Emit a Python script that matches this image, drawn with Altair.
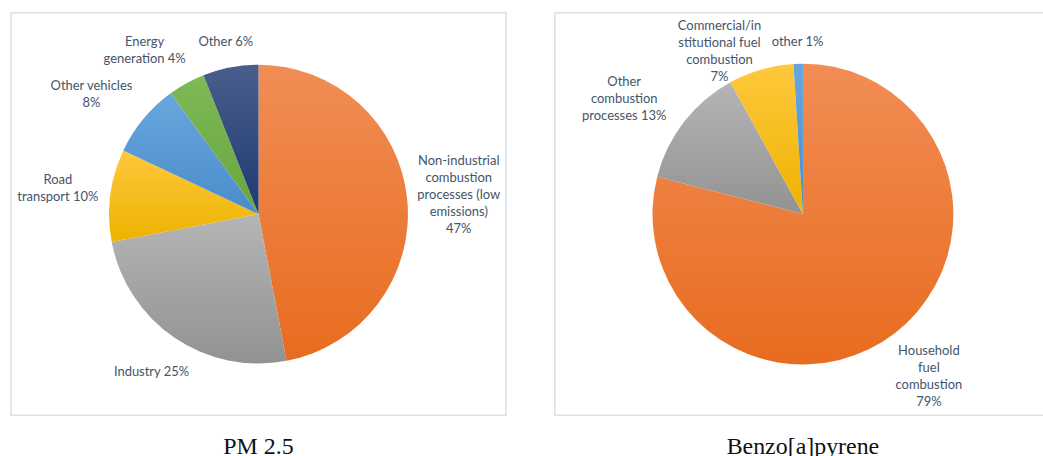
import math
import altair as alt
import pandas as pd

# ---------------- data ----------------
pm_categories = ["Non-industrial combustion processes (low emissions)", "Industry",
                 "Road transport", "Other vehicles", "Energy generation", "Other"]
pm_values = [47, 25, 10, 8, 4, 6]
pm_labels = [["Non-industrial", "combustion", "processes (low", "emissions)", "47%"],
             ["Industry 25%"],
             ["Road", "transport 10%"],
             ["Other vehicles", "8%"],
             ["Energy", "generation 4%"],
             ["Other 6%"]]

bap_categories = ["Household fuel combustion", "Other combustion processes",
                  "Commercial/institutional fuel combustion", "other"]
bap_values = [79, 13, 7, 1]
bap_labels = [["Household", "fuel", "combustion", "79%"],
              ["Other", "combustion", "processes 13%"],
              ["Commercial/in", "stitutional fuel", "combustion", "7%"],
              ["other 1%"]]

# gradient colours (top, bottom) per Office palette colour
ORANGE = ("#F18D55", "#E86C1F")
GRAY = ("#B5B5B5", "#929292")
GOLD = ("#FFC83D", "#EDB300")
BLUE = ("#68A7DE", "#4A8CCB")
GREEN = ("#7EB957", "#67A63C")
NAVY = ("#4A5E8C", "#1E3A70")

pm_colors = [ORANGE, GRAY, GOLD, BLUE, GREEN, NAVY]
bap_colors = [ORANGE, GRAY, GOLD, BLUE]

LABEL_FONT = "Lato"
LABEL_SIZE = 13
LINE_H = 17
LABEL_COLOR = "#44546A"
FRAME_COLOR = "#DCDFE4"

# approximate Lato advance widths (per 1000 em) used to size label boxes
_ADV = {"i": 230, "l": 230, "j": 230, "t": 340, "f": 300, "r": 340, " ": 193, "s": 400,
        "o": 560, "n": 550, "e": 510, "a": 480, "u": 550, "c": 450, "d": 560, "p": 560,
        "y": 500, "h": 550, "m": 830, "g": 520, "v": 500, "b": 560, "%": 780, "/": 360,
        "(": 300, ")": 300, "-": 340, "C": 660, "I": 280, "O": 760, "N": 750, "H": 750,
        "R": 620, "E": 560}


def text_w(t):
    """rough rendered width of a label line (px)"""
    return sum(_ADV.get(ch, 580) for ch in t) * LABEL_SIZE / 1000 * 1.07


def place(lines, ang_deg, R, W, H, gap=12, margin=5):
    """Excel-like outside-end placement: label box just clear of the pie, kept inside the view."""
    a = math.radians(ang_deg)
    s, c = math.sin(a), math.cos(a)
    hw = max(text_w(t) for t in lines) / 2
    hh = len(lines) * LINE_H / 2
    r = R + gap + abs(s) * hw + abs(c) * hh
    if abs(s) > 1e-6:
        r = min(r, (W / 2 - margin - hw) / abs(s))
    if abs(c) > 1e-6:
        r = min(r, (H / 2 - margin - hh) / abs(c))
    cx, cy = r * s, -r * c
    return r, (cx - hw, cy - hh, cx + hw, cy + hh)


def overlaps(b1, b2, pad=8):
    return not (b1[2] + pad <= b2[0] or b2[2] + pad <= b1[0] or
                b1[3] + pad <= b2[1] or b2[3] + pad <= b1[1])


def pie(categories, values, labels, colors, R, title, W, H):
    total = sum(values)
    starts, ends = [], []
    acc = 0
    for v in values:
        starts.append(acc / total * 100)
        acc += v
        ends.append(acc / total * 100)

    # label placement, resolving collisions by rotating labels counter-clockwise
    n = len(values)
    lab_ang = [None] * n
    lab_r = [None] * n
    boxes = []
    for i in reversed(range(n)):
        ang = (starts[i] + ends[i]) / 2 * 3.6
        r, box = place(labels[i], ang, R, W, H)
        while any(overlaps(box, b) for b in boxes) and ang > starts[i] * 3.6 - 40:
            ang -= 1
            r, box = place(labels[i], ang, R, W, H)
        boxes.append(box)
        lab_ang[i] = ang / 3.6
        lab_r[i] = r

    df = pd.DataFrame({
        "category": categories,
        "value": values,
        "start": starts,
        "end": ends,
        "lab_pos": lab_ang,
        "lab_r": lab_r,
        "nlines": [len(l) for l in labels],
        "label": ["\n".join(l) for l in labels],
    })
    tscale = alt.Scale(domain=[0, 100], range=[0, 2 * math.pi])
    base = alt.Chart(df)
    layers = []
    for cat, (c1, c2) in zip(categories, colors):
        grad = alt.LinearGradient(
            gradient="linear",
            stops=[alt.GradientStop(color=c1, offset=0), alt.GradientStop(color=c2, offset=1)],
            x1=0, x2=0, y1=0, y2=1)
        layers.append(
            base.transform_filter(alt.datum.category == cat)
            .mark_arc(fill=grad, radius=R)
            .encode(theta=alt.Theta("start:Q", scale=tscale), theta2="end:Q")
        )
    for k in sorted(set(len(l) for l in labels)):
        layers.append(
            base.transform_filter(alt.datum.nlines == k)
            .mark_text(font=LABEL_FONT, fontSize=LABEL_SIZE, color=LABEL_COLOR,
                       lineBreak="\n", lineHeight=LINE_H, align="center",
                       baseline="middle", dy=-(k - 1) * LINE_H / 2)
            .encode(theta=alt.Theta("lab_pos:Q", scale=tscale),
                    radius=alt.Radius("lab_r:Q", scale=None),
                    text="label:N")
        )
    frame = alt.Chart(pd.DataFrame({"f": [0]})).mark_rect(
        filled=False, stroke=FRAME_COLOR, strokeWidth=1.5
    ).encode(x=alt.value(0), x2=alt.value(W), y=alt.value(0), y2=alt.value(H))
    layers.append(frame)
    return alt.layer(*layers).properties(
        width=W, height=H,
        title=alt.TitleParams(title, orient="bottom", font="Liberation Serif", fontSize=24,
                              fontWeight="normal", color="#111111", offset=19),
    )


left = pie(pm_categories, pm_values, pm_labels, pm_colors, 150, "PM 2.5", 497, 404)
right = pie(bap_categories, bap_values, bap_labels, bap_colors, 151, "Benzo[a]pyrene", 498, 404)

chart = alt.hconcat(left, right, spacing=47).properties(
    padding={"left": 10, "top": 11, "right": -9, "bottom": 0},
    background="white",
).configure_view(strokeWidth=0).configure_concat(spacing=47)

chart.save("out.html", embed_options={"renderer": "svg", "actions": False})
